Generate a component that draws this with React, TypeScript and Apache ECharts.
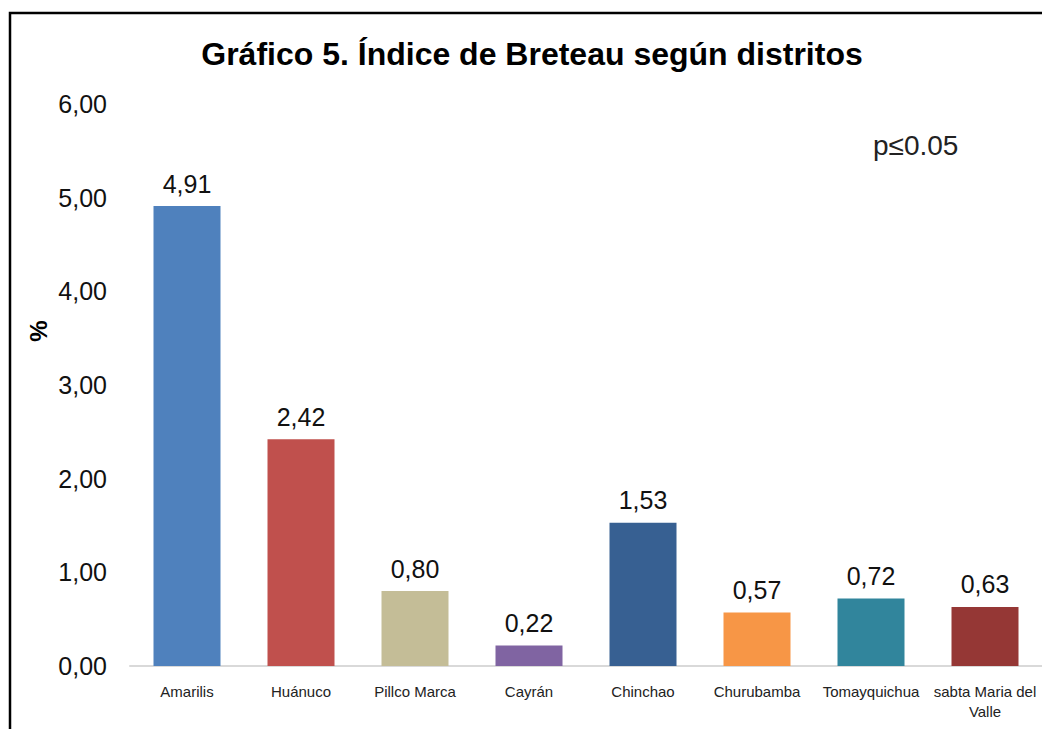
import React, { useEffect, useRef } from "react";
import * as echarts from "echarts";

const categories = [
  "Amarilis",
  "Huánuco",
  "Pillco Marca",
  "Cayrán",
  "Chinchao",
  "Churubamba",
  "Tomayquichua",
  "sabta Maria del\nValle",
];
const values = [4.91, 2.42, 0.8, 0.22, 1.53, 0.57, 0.72, 0.63];
const barColors = [
  "#4F81BD",
  "#C0504D",
  "#C4BD97",
  "#8064A2",
  "#376092",
  "#F79646",
  "#31859C",
  "#953735",
];
const titleText = "Gráfico 5. Índice de Breteau según distritos";
const noteText = "p≤0.05";
const axisName = "%";

const fmt = (v: number) => v.toFixed(2).replace(".", ",");

export default function App() {
  const ref = useRef<HTMLDivElement>(null);
  useEffect(() => {
    if (!ref.current) return;
    const chart = echarts.init(ref.current, null, { renderer: "svg" });
    const font = "'Liberation Sans', Arial, sans-serif";
    chart.setOption({
      animation: false,
      backgroundColor: "#ffffff",
      textStyle: { fontFamily: font },
      grid: { left: 130, right: 0, top: 104, bottom: 63, containLabel: false },
      xAxis: {
        type: "category",
        data: categories,
        axisLine: { show: true, lineStyle: { color: "#d9d9d9", width: 2 } },
        axisTick: { show: false },
        axisLabel: {
          interval: 0,
          margin: 15,
          fontSize: 15,
          lineHeight: 20,
          color: "#222",
          fontFamily: font,
          align: "center",
        },
      },
      yAxis: {
        type: "value",
        min: 0,
        max: 6,
        interval: 1,
        axisLine: { show: false },
        axisTick: { show: false },
        splitLine: { show: false },
        axisLabel: {
          margin: 23,
          fontSize: 25,
          color: "#111",
          formatter: (v: number) => fmt(v),
        },
      },
      series: [
        {
          type: "bar",
          data: values.map((v, i) => ({ value: v, itemStyle: { color: barColors[i] } })),
          barWidth: 67,
          label: {
            show: true,
            position: "top",
            distance: 10,
            fontSize: 25,
            color: "#111",
            formatter: (p: any) => fmt(p.value),
          },
        },
      ],
      graphic: [
        {
          type: "rect",
          shape: { x: 10, y: 13, width: 1200, height: 900 },
          style: { fill: "none", stroke: "#000", lineWidth: 2.5 },
          silent: true,
        },
        {
          type: "text",
          x: 532,
          y: 54,
          style: {
            text: titleText,
            font: `bold 32px ${font}`,
            fill: "#000",
            align: "center",
            verticalAlign: "middle",
          },
        },
        {
          type: "text",
          x: 873,
          y: 145,
          style: {
            text: noteText,
            font: `28px ${font}`,
            fill: "#222",
            align: "left",
            verticalAlign: "middle",
          },
        },
        {
          type: "text",
          x: 38,
          y: 331,
          rotation: Math.PI / 2,
          style: {
            text: axisName,
            font: `bold 24px ${font}`,
            fill: "#000",
            align: "center",
            verticalAlign: "middle",
          },
        },
      ],
    });
    return () => chart.dispose();
  }, []);
  return (
    <div
      ref={ref}
      style={{ position: "absolute", left: 0, top: 0, width: 1042, height: 729 }}
    />
  );
}
